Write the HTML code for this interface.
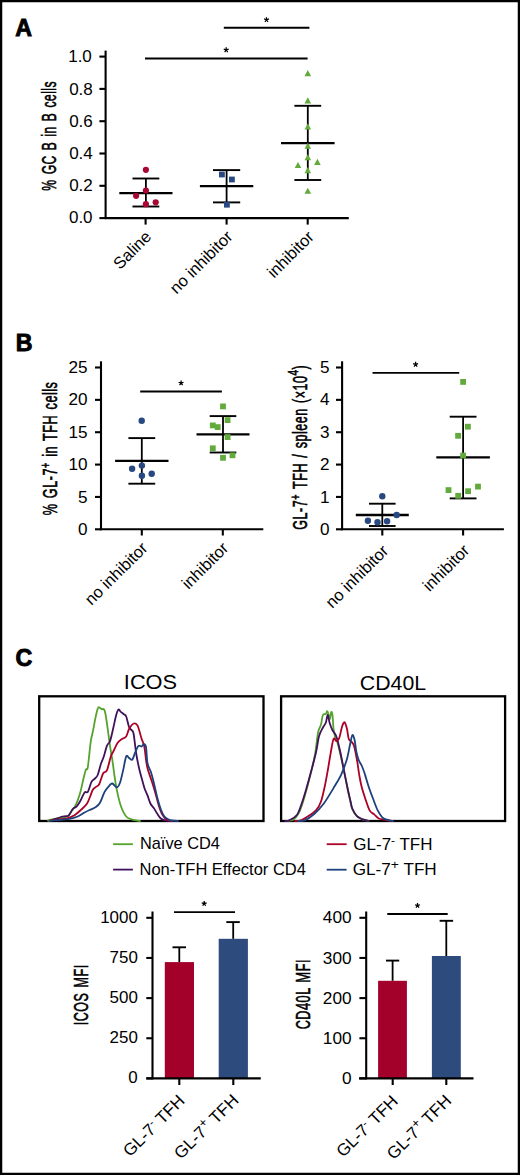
<!DOCTYPE html>
<html><head><meta charset="utf-8"><style>
html,body{margin:0;padding:0;background:#fff;}
body{width:520px;height:1175px;overflow:hidden;}
svg{display:block;font-family:"Liberation Sans", sans-serif;}
</style></head><body>
<svg width="520" height="1175" viewBox="0 0 520 1175" font-family='"Liberation Sans", sans-serif' fill="#000">
<rect x="1.1" y="1.1" width="517.8" height="1172.8" fill="none" stroke="#000" stroke-width="2.3"/>
<text transform="translate(15.35,35.95)" font-size="23.2" text-anchor="start" font-weight="bold" stroke="#000" stroke-width="0.9">A</text>
<line x1="105.60" y1="50.60" x2="105.60" y2="219.00" stroke="#000" stroke-width="2.1"/>
<line x1="99.40" y1="218.10" x2="105.60" y2="218.10" stroke="#000" stroke-width="2.1"/>
<text transform="translate(92.55,223.40) scale(1.0623,1.0000)" font-size="16" text-anchor="end" >0.0</text>
<line x1="99.40" y1="185.80" x2="105.60" y2="185.80" stroke="#000" stroke-width="2.1"/>
<text transform="translate(92.85,191.40) scale(1.0666,1.0000)" font-size="16" text-anchor="end" >0.2</text>
<line x1="99.40" y1="153.50" x2="105.60" y2="153.50" stroke="#000" stroke-width="2.1"/>
<text transform="translate(92.85,159.10) scale(1.0666,1.0000)" font-size="16" text-anchor="end" >0.4</text>
<line x1="99.40" y1="121.20" x2="105.60" y2="121.20" stroke="#000" stroke-width="2.1"/>
<text transform="translate(92.85,126.80) scale(1.0666,1.0000)" font-size="16" text-anchor="end" >0.6</text>
<line x1="99.40" y1="88.90" x2="105.60" y2="88.90" stroke="#000" stroke-width="2.1"/>
<text transform="translate(92.85,94.50) scale(1.0666,1.0000)" font-size="16" text-anchor="end" >0.8</text>
<line x1="99.40" y1="56.60" x2="105.60" y2="56.60" stroke="#000" stroke-width="2.1"/>
<text transform="translate(91.85,62.20) scale(1.0642,1.0000)" font-size="16" text-anchor="end" >1.0</text>
<line x1="104.70" y1="218.10" x2="348.80" y2="218.10" stroke="#000" stroke-width="2.1"/>
<line x1="145.60" y1="218.10" x2="145.60" y2="224.60" stroke="#000" stroke-width="2.1"/>
<line x1="226.60" y1="218.10" x2="226.60" y2="224.60" stroke="#000" stroke-width="2.1"/>
<line x1="307.70" y1="218.10" x2="307.70" y2="224.60" stroke="#000" stroke-width="2.1"/>
<text transform="translate(56.15,135.80) rotate(-90) scale(0.6185,1.0000)" font-size="19.5" text-anchor="middle" stroke="#000" stroke-width="0.6" word-spacing="2" letter-spacing="0.8">% GC B in B cells</text>
<line x1="223.80" y1="27.80" x2="309.40" y2="27.80" stroke="#000" stroke-width="1.9"/>
<path d="M266.50,19.75 L266.50,17.15 M266.50,19.75 L268.97,18.95 M266.50,19.75 L268.03,21.85 M266.50,19.75 L264.97,21.85 M266.50,19.75 L264.03,18.95" stroke="#000" stroke-width="1.25" fill="none"/>
<line x1="145.00" y1="58.50" x2="307.60" y2="58.50" stroke="#000" stroke-width="1.9"/>
<path d="M226.20,49.95 L226.20,47.35 M226.20,49.95 L228.67,49.15 M226.20,49.95 L227.73,52.05 M226.20,49.95 L224.67,52.05 M226.20,49.95 L223.73,49.15" stroke="#000" stroke-width="1.25" fill="none"/>
<line x1="145.90" y1="178.50" x2="145.90" y2="206.50" stroke="#000" stroke-width="1.8"/>
<line x1="132.50" y1="178.50" x2="159.30" y2="178.50" stroke="#000" stroke-width="1.9"/>
<line x1="132.50" y1="206.50" x2="159.30" y2="206.50" stroke="#000" stroke-width="1.9"/>
<line x1="119.30" y1="193.10" x2="172.50" y2="193.10" stroke="#000" stroke-width="2.3"/>
<circle cx="145.90" cy="169.80" r="3.1" fill="#AA0633"/>
<circle cx="145.90" cy="190.50" r="3.1" fill="#AA0633"/>
<circle cx="136.10" cy="195.80" r="3.1" fill="#AA0633"/>
<circle cx="145.90" cy="204.20" r="3.1" fill="#AA0633"/>
<circle cx="155.70" cy="202.30" r="3.1" fill="#AA0633"/>
<line x1="226.60" y1="170.10" x2="226.60" y2="202.40" stroke="#000" stroke-width="1.8"/>
<line x1="213.00" y1="170.10" x2="240.20" y2="170.10" stroke="#000" stroke-width="1.9"/>
<line x1="213.00" y1="202.40" x2="240.20" y2="202.40" stroke="#000" stroke-width="1.9"/>
<line x1="199.90" y1="186.20" x2="253.30" y2="186.20" stroke="#000" stroke-width="2.3"/>
<rect x="219.00" y="171.60" width="5.8" height="5.8" fill="#284881"/>
<rect x="229.00" y="176.60" width="5.8" height="5.8" fill="#284881"/>
<rect x="224.00" y="201.80" width="5.8" height="5.8" fill="#284881"/>
<line x1="307.80" y1="105.80" x2="307.80" y2="180.00" stroke="#000" stroke-width="1.8"/>
<line x1="294.40" y1="105.80" x2="321.20" y2="105.80" stroke="#000" stroke-width="1.9"/>
<line x1="294.40" y1="180.00" x2="321.20" y2="180.00" stroke="#000" stroke-width="1.9"/>
<line x1="281.00" y1="143.10" x2="334.60" y2="143.10" stroke="#000" stroke-width="2.3"/>
<path d="M304.50,76.15 L307.80,70.05 L311.10,76.15 Z" fill="#62AA3C"/>
<path d="M304.50,103.45 L307.80,97.35 L311.10,103.45 Z" fill="#62AA3C"/>
<path d="M304.50,129.55 L307.80,123.45 L311.10,129.55 Z" fill="#62AA3C"/>
<path d="M304.50,148.85 L307.80,142.75 L311.10,148.85 Z" fill="#62AA3C"/>
<path d="M304.50,160.35 L307.80,154.25 L311.10,160.35 Z" fill="#62AA3C"/>
<path d="M294.70,168.05 L298.00,161.95 L301.30,168.05 Z" fill="#62AA3C"/>
<path d="M314.10,164.95 L317.40,158.85 L320.70,164.95 Z" fill="#62AA3C"/>
<path d="M304.50,173.15 L307.80,167.05 L311.10,173.15 Z" fill="#62AA3C"/>
<path d="M304.50,193.75 L307.80,187.65 L311.10,193.75 Z" fill="#62AA3C"/>
<text transform="translate(152.35,237.75) rotate(-45)" font-size="16.5" text-anchor="end" >Saline</text>
<text transform="translate(233.55,237.70) rotate(-45)" font-size="16.5" text-anchor="end" >no inhibitor</text>
<text transform="translate(314.80,237.85) rotate(-45)" font-size="16.5" text-anchor="end" >inhibitor</text>
<text transform="translate(15.80,350.75)" font-size="23.2" text-anchor="start" font-weight="bold" stroke="#000" stroke-width="0.9">B</text>
<line x1="101.00" y1="361.30" x2="101.00" y2="530.20" stroke="#000" stroke-width="2.1"/>
<line x1="95.00" y1="529.30" x2="101.00" y2="529.30" stroke="#000" stroke-width="2.1"/>
<text transform="translate(87.65,534.90) scale(1.0720,1.0000)" font-size="16" text-anchor="end" >0</text>
<line x1="95.00" y1="496.94" x2="101.00" y2="496.94" stroke="#000" stroke-width="2.1"/>
<text transform="translate(87.65,502.54) scale(1.0720,1.0000)" font-size="16" text-anchor="end" >5</text>
<line x1="95.00" y1="464.58" x2="101.00" y2="464.58" stroke="#000" stroke-width="2.1"/>
<text transform="translate(87.65,470.18) scale(1.0720,1.0000)" font-size="16" text-anchor="end" >10</text>
<line x1="95.00" y1="432.22" x2="101.00" y2="432.22" stroke="#000" stroke-width="2.1"/>
<text transform="translate(87.65,437.82) scale(1.0720,1.0000)" font-size="16" text-anchor="end" >15</text>
<line x1="95.00" y1="399.86" x2="101.00" y2="399.86" stroke="#000" stroke-width="2.1"/>
<text transform="translate(87.65,405.46) scale(1.0720,1.0000)" font-size="16" text-anchor="end" >20</text>
<line x1="95.00" y1="367.50" x2="101.00" y2="367.50" stroke="#000" stroke-width="2.1"/>
<text transform="translate(87.65,373.10) scale(1.0720,1.0000)" font-size="16" text-anchor="end" >25</text>
<line x1="100.10" y1="529.30" x2="263.30" y2="529.30" stroke="#000" stroke-width="2.1"/>
<line x1="141.80" y1="529.30" x2="141.80" y2="535.50" stroke="#000" stroke-width="2.1"/>
<line x1="222.80" y1="529.30" x2="222.80" y2="535.50" stroke="#000" stroke-width="2.1"/>
<text transform="translate(56.75,448.40) rotate(-90) scale(0.6487,1.0000)" font-size="19.5" text-anchor="middle" stroke="#000" stroke-width="0.6" word-spacing="2" letter-spacing="0.8">% GL-7<tspan font-size="14" dy="-7">+</tspan><tspan dy="7"> in TFH cells</tspan></text>
<line x1="140.20" y1="391.50" x2="221.90" y2="391.50" stroke="#000" stroke-width="1.9"/>
<path d="M181.10,383.05 L181.10,380.45 M181.10,383.05 L183.57,382.25 M181.10,383.05 L182.63,385.15 M181.10,383.05 L179.57,385.15 M181.10,383.05 L178.63,382.25" stroke="#000" stroke-width="1.25" fill="none"/>
<line x1="141.80" y1="438.10" x2="141.80" y2="483.70" stroke="#000" stroke-width="1.8"/>
<line x1="128.40" y1="438.10" x2="155.20" y2="438.10" stroke="#000" stroke-width="1.9"/>
<line x1="128.40" y1="483.70" x2="155.20" y2="483.70" stroke="#000" stroke-width="1.9"/>
<line x1="115.10" y1="460.90" x2="168.50" y2="460.90" stroke="#000" stroke-width="2.3"/>
<circle cx="141.70" cy="420.80" r="3.2" fill="#284881"/>
<circle cx="132.10" cy="468.80" r="3.2" fill="#284881"/>
<circle cx="141.90" cy="465.60" r="3.2" fill="#284881"/>
<circle cx="141.90" cy="475.80" r="3.2" fill="#284881"/>
<circle cx="151.70" cy="473.70" r="3.2" fill="#284881"/>
<line x1="223.00" y1="416.10" x2="223.00" y2="452.50" stroke="#000" stroke-width="1.8"/>
<line x1="209.70" y1="416.10" x2="236.30" y2="416.10" stroke="#000" stroke-width="1.9"/>
<line x1="209.70" y1="452.50" x2="236.30" y2="452.50" stroke="#000" stroke-width="1.9"/>
<line x1="196.50" y1="434.30" x2="249.50" y2="434.30" stroke="#000" stroke-width="2.3"/>
<rect x="220.10" y="403.50" width="5.8" height="5.8" fill="#62AA3C"/>
<rect x="224.70" y="417.20" width="5.8" height="5.8" fill="#62AA3C"/>
<rect x="209.90" y="422.50" width="5.8" height="5.8" fill="#62AA3C"/>
<rect x="214.80" y="424.20" width="5.8" height="5.8" fill="#62AA3C"/>
<rect x="224.70" y="434.20" width="5.8" height="5.8" fill="#62AA3C"/>
<rect x="209.90" y="445.40" width="5.8" height="5.8" fill="#62AA3C"/>
<rect x="220.10" y="454.90" width="5.8" height="5.8" fill="#62AA3C"/>
<rect x="229.60" y="452.40" width="5.8" height="5.8" fill="#62AA3C"/>
<text transform="translate(148.65,549.00) rotate(-45)" font-size="16.5" text-anchor="end" >no inhibitor</text>
<text transform="translate(229.35,549.15) rotate(-45)" font-size="16.5" text-anchor="end" >inhibitor</text>
<line x1="342.10" y1="361.30" x2="342.10" y2="530.20" stroke="#000" stroke-width="2.1"/>
<line x1="336.00" y1="529.30" x2="342.10" y2="529.30" stroke="#000" stroke-width="2.1"/>
<text transform="translate(329.65,534.90) scale(1.0720,1.0000)" font-size="16" text-anchor="end" >0</text>
<line x1="336.00" y1="496.94" x2="342.10" y2="496.94" stroke="#000" stroke-width="2.1"/>
<text transform="translate(329.65,502.54) scale(1.0720,1.0000)" font-size="16" text-anchor="end" >1</text>
<line x1="336.00" y1="464.58" x2="342.10" y2="464.58" stroke="#000" stroke-width="2.1"/>
<text transform="translate(329.65,470.18) scale(1.0720,1.0000)" font-size="16" text-anchor="end" >2</text>
<line x1="336.00" y1="432.22" x2="342.10" y2="432.22" stroke="#000" stroke-width="2.1"/>
<text transform="translate(329.65,437.82) scale(1.0720,1.0000)" font-size="16" text-anchor="end" >3</text>
<line x1="336.00" y1="399.86" x2="342.10" y2="399.86" stroke="#000" stroke-width="2.1"/>
<text transform="translate(329.65,405.46) scale(1.0720,1.0000)" font-size="16" text-anchor="end" >4</text>
<line x1="336.00" y1="367.50" x2="342.10" y2="367.50" stroke="#000" stroke-width="2.1"/>
<text transform="translate(329.65,373.10) scale(1.0720,1.0000)" font-size="16" text-anchor="end" >5</text>
<line x1="341.20" y1="529.30" x2="503.90" y2="529.30" stroke="#000" stroke-width="2.1"/>
<line x1="382.30" y1="529.30" x2="382.30" y2="535.50" stroke="#000" stroke-width="2.1"/>
<line x1="463.10" y1="529.30" x2="463.10" y2="535.50" stroke="#000" stroke-width="2.1"/>
<text transform="translate(307.10,447.20) rotate(-90) scale(0.6441,1.0000)" font-size="19.5" text-anchor="middle" stroke="#000" stroke-width="0.6" word-spacing="2" letter-spacing="0.8">GL-7<tspan font-size="14" dy="-7">+</tspan><tspan dy="7"> TFH / spleen (×10</tspan><tspan font-size="15.5" dy="-8.8">4</tspan><tspan dy="8.8">)</tspan></text>
<line x1="372.50" y1="372.90" x2="459.20" y2="372.90" stroke="#000" stroke-width="1.9"/>
<path d="M415.60,364.45 L415.60,361.85 M415.60,364.45 L418.07,363.65 M415.60,364.45 L417.13,366.55 M415.60,364.45 L414.07,366.55 M415.60,364.45 L413.13,363.65" stroke="#000" stroke-width="1.25" fill="none"/>
<line x1="382.30" y1="503.70" x2="382.30" y2="526.00" stroke="#000" stroke-width="1.8"/>
<line x1="369.00" y1="503.70" x2="395.60" y2="503.70" stroke="#000" stroke-width="1.9"/>
<line x1="369.00" y1="526.00" x2="395.60" y2="526.00" stroke="#000" stroke-width="1.9"/>
<line x1="355.80" y1="515.00" x2="408.80" y2="515.00" stroke="#000" stroke-width="2.3"/>
<circle cx="382.30" cy="496.20" r="3.2" fill="#284881"/>
<circle cx="396.70" cy="515.00" r="3.2" fill="#284881"/>
<circle cx="367.90" cy="520.80" r="3.2" fill="#284881"/>
<circle cx="377.50" cy="522.30" r="3.2" fill="#284881"/>
<circle cx="387.10" cy="521.30" r="3.2" fill="#284881"/>
<line x1="463.10" y1="416.70" x2="463.10" y2="498.40" stroke="#000" stroke-width="1.8"/>
<line x1="449.70" y1="416.70" x2="476.50" y2="416.70" stroke="#000" stroke-width="1.9"/>
<line x1="449.70" y1="498.40" x2="476.50" y2="498.40" stroke="#000" stroke-width="1.9"/>
<line x1="436.30" y1="457.40" x2="489.90" y2="457.40" stroke="#000" stroke-width="2.3"/>
<rect x="460.20" y="379.00" width="5.8" height="5.8" fill="#62AA3C"/>
<rect x="465.00" y="423.80" width="5.8" height="5.8" fill="#62AA3C"/>
<rect x="455.20" y="432.90" width="5.8" height="5.8" fill="#62AA3C"/>
<rect x="460.20" y="452.60" width="5.8" height="5.8" fill="#62AA3C"/>
<rect x="445.60" y="487.20" width="5.8" height="5.8" fill="#62AA3C"/>
<rect x="455.30" y="492.90" width="5.8" height="5.8" fill="#62AA3C"/>
<rect x="465.20" y="488.30" width="5.8" height="5.8" fill="#62AA3C"/>
<rect x="475.10" y="483.70" width="5.8" height="5.8" fill="#62AA3C"/>
<text transform="translate(389.40,551.85) rotate(-45)" font-size="16.5" text-anchor="end" >no inhibitor</text>
<text transform="translate(470.35,551.45) rotate(-45)" font-size="16.5" text-anchor="end" >inhibitor</text>
<text transform="translate(15.55,665.60)" font-size="23.2" text-anchor="start" font-weight="bold" stroke="#000" stroke-width="0.9">C</text>
<text transform="translate(150.45,689.40) scale(1.0622,1.0000)" font-size="20.5" text-anchor="middle" >ICOS</text>
<text transform="translate(392.95,689.55) scale(1.0380,1.0000)" font-size="20.5" text-anchor="middle" >CD40L</text>
<rect x="39.2" y="696.3" width="224.3" height="124.7" fill="none" stroke="#000" stroke-width="2.3"/>
<rect x="281.1" y="696.3" width="224" height="124.7" fill="none" stroke="#000" stroke-width="2.3"/>
<path d="M48.50,821.00 C48.55,820.87 47.20,820.65 48.80,820.20 C50.40,819.75 55.02,818.92 58.10,818.30 C61.18,817.68 65.00,817.75 67.30,816.50 C69.60,815.25 70.65,812.43 71.90,810.80 C73.15,809.17 73.83,808.43 74.80,806.70 C75.77,804.97 76.73,802.98 77.70,800.40 C78.67,797.82 79.67,794.68 80.60,791.20 C81.53,787.72 82.43,783.07 83.30,779.50 C84.17,775.93 85.10,771.60 85.80,769.80 C86.50,768.00 87.02,770.33 87.50,768.70 C87.98,767.07 88.15,764.58 88.70,760.00 C89.25,755.42 90.07,746.13 90.80,741.20 C91.53,736.27 92.33,734.25 93.10,730.40 C93.87,726.55 94.63,721.70 95.40,718.10 C96.17,714.50 97.07,710.60 97.70,708.80 C98.33,707.00 98.57,707.23 99.20,707.30 C99.83,707.37 100.73,708.88 101.50,709.20 C102.27,709.52 103.15,708.48 103.80,709.20 C104.45,709.92 104.75,710.23 105.40,713.50 C106.05,716.77 106.93,723.42 107.70,728.80 C108.47,734.18 109.23,740.67 110.00,745.80 C110.77,750.93 111.53,754.48 112.30,759.60 C113.07,764.72 113.83,771.37 114.60,776.50 C115.37,781.63 115.87,785.52 116.90,790.40 C117.93,795.28 119.25,801.45 120.80,805.80 C122.35,810.15 124.28,814.20 126.20,816.50 C128.12,818.80 130.00,818.85 132.30,819.60 C134.60,820.35 138.72,820.77 140.00,821.00" fill="none" stroke="#55A22E" stroke-width="1.8" stroke-linejoin="round" stroke-linecap="round"/>
<path d="M49.50,821.00 C49.97,820.83 50.10,820.75 52.30,820.00 C54.50,819.25 60.10,817.17 62.70,816.50 C65.30,815.83 66.75,816.38 67.90,816.00 C69.05,815.62 68.73,815.45 69.60,814.20 C70.47,812.95 71.95,809.75 73.10,808.50 C74.25,807.25 75.35,807.87 76.50,806.70 C77.65,805.53 78.65,803.87 80.00,801.50 C81.35,799.13 83.28,794.12 84.60,792.50 C85.92,790.88 86.75,793.58 87.90,791.80 C89.05,790.02 90.38,783.97 91.50,781.80 C92.62,779.63 93.57,779.93 94.60,778.80 C95.63,777.67 96.67,777.43 97.70,775.00 C98.73,772.57 99.78,767.28 100.80,764.20 C101.82,761.12 102.78,759.57 103.80,756.50 C104.82,753.43 105.87,748.35 106.90,745.80 C107.93,743.25 108.97,744.03 110.00,741.20 C111.03,738.37 112.07,733.17 113.10,728.80 C114.13,724.43 115.30,718.20 116.20,715.00 C117.10,711.80 117.73,710.12 118.50,709.60 C119.27,709.08 119.92,711.13 120.80,711.90 C121.68,712.67 122.90,713.43 123.80,714.20 C124.70,714.97 125.30,714.32 126.20,716.50 C127.10,718.68 128.05,724.73 129.20,727.30 C130.35,729.87 132.20,729.58 133.10,731.90 C134.00,734.22 134.08,737.60 134.60,741.20 C135.12,744.80 135.43,748.90 136.20,753.50 C136.97,758.10 138.18,764.32 139.20,768.80 C140.22,773.28 141.40,777.12 142.30,780.40 C143.20,783.68 143.73,786.00 144.60,788.50 C145.47,791.00 146.53,792.90 147.50,795.40 C148.47,797.90 149.35,801.38 150.40,803.50 C151.45,805.62 152.65,806.38 153.80,808.10 C154.95,809.82 156.13,812.07 157.30,813.80 C158.47,815.53 159.65,817.43 160.80,818.50 C161.95,819.57 162.67,819.78 164.20,820.20 C165.73,820.62 169.03,820.87 170.00,821.00" fill="none" stroke="#41115B" stroke-width="1.8" stroke-linejoin="round" stroke-linecap="round"/>
<path d="M50.00,821.00 C50.38,820.87 49.42,820.65 52.30,820.20 C55.18,819.75 63.65,819.10 67.30,818.30 C70.95,817.50 71.88,816.85 74.20,815.40 C76.52,813.95 79.08,811.53 81.20,809.60 C83.32,807.67 85.37,806.10 86.90,803.80 C88.43,801.50 89.43,798.10 90.40,795.80 C91.37,793.50 91.87,791.42 92.70,790.00 C93.53,788.58 94.32,788.27 95.40,787.30 C96.48,786.33 97.92,786.50 99.20,784.20 C100.48,781.90 101.82,775.80 103.10,773.50 C104.38,771.20 105.62,773.23 106.90,770.40 C108.18,767.57 109.77,759.58 110.80,756.50 C111.83,753.42 111.95,754.20 113.10,751.90 C114.25,749.60 116.17,744.88 117.70,742.70 C119.23,740.52 120.88,739.83 122.30,738.80 C123.72,737.77 125.05,738.17 126.20,736.50 C127.35,734.83 127.93,730.97 129.20,728.80 C130.47,726.63 132.38,724.00 133.80,723.50 C135.22,723.00 136.42,723.30 137.70,725.80 C138.98,728.30 140.40,735.05 141.50,738.50 C142.60,741.95 143.50,742.58 144.30,746.50 C145.10,750.42 145.68,758.08 146.30,762.00 C146.92,765.92 147.08,766.78 148.00,770.00 C148.92,773.22 150.55,777.38 151.80,781.30 C153.05,785.22 154.38,789.62 155.50,793.50 C156.62,797.38 157.43,801.22 158.50,804.60 C159.57,807.98 160.57,811.30 161.90,813.80 C163.23,816.30 164.82,818.40 166.50,819.60 C168.18,820.80 171.08,820.77 172.00,821.00" fill="none" stroke="#AC0026" stroke-width="1.8" stroke-linejoin="round" stroke-linecap="round"/>
<path d="M50.00,821.00 C50.38,820.93 49.03,820.97 52.30,820.60 C55.57,820.23 65.37,819.48 69.60,818.80 C73.83,818.12 75.20,817.55 77.70,816.50 C80.20,815.45 82.48,813.65 84.60,812.50 C86.72,811.35 88.60,810.47 90.40,809.60 C92.20,808.73 93.80,808.45 95.40,807.30 C97.00,806.15 98.47,805.27 100.00,802.70 C101.53,800.13 103.07,794.72 104.60,791.90 C106.13,789.08 107.92,787.20 109.20,785.80 C110.48,784.40 111.02,783.25 112.30,783.50 C113.58,783.75 115.62,787.43 116.90,787.30 C118.18,787.17 118.97,785.52 120.00,782.70 C121.03,779.88 122.07,774.77 123.10,770.40 C124.13,766.03 125.18,758.55 126.20,756.50 C127.22,754.45 128.18,757.58 129.20,758.10 C130.22,758.62 131.27,760.63 132.30,759.60 C133.33,758.57 134.37,754.20 135.40,751.90 C136.43,749.60 137.48,746.70 138.50,745.80 C139.52,744.90 140.62,746.77 141.50,746.50 C142.38,746.23 143.05,744.12 143.80,744.20 C144.55,744.28 145.38,743.85 146.00,747.00 C146.62,750.15 146.67,758.88 147.50,763.10 C148.33,767.32 149.95,769.03 151.00,772.30 C152.05,775.57 152.75,778.47 153.80,782.70 C154.85,786.93 156.13,793.28 157.30,797.70 C158.47,802.12 159.65,806.12 160.80,809.20 C161.95,812.28 162.87,814.47 164.20,816.20 C165.53,817.93 167.45,818.88 168.80,819.60 C170.15,820.32 170.77,820.27 172.30,820.50 C173.83,820.73 177.05,820.92 178.00,821.00" fill="none" stroke="#1C417C" stroke-width="1.8" stroke-linejoin="round" stroke-linecap="round"/>
<path d="M287.00,821.00 C288.02,820.80 291.13,821.12 293.10,819.80 C295.07,818.48 297.03,816.47 298.80,813.10 C300.57,809.73 302.08,804.73 303.70,799.60 C305.32,794.47 307.07,787.75 308.50,782.30 C309.93,776.85 311.18,771.70 312.30,766.90 C313.42,762.10 314.23,759.27 315.20,753.50 C316.17,747.73 317.13,737.12 318.10,732.30 C319.07,727.48 320.20,727.48 321.00,724.60 C321.80,721.72 322.10,716.77 322.90,715.00 C323.70,713.23 325.07,714.63 325.80,714.00 C326.53,713.37 326.82,711.03 327.30,711.20 C327.78,711.37 328.25,713.73 328.70,715.00 C329.15,716.27 329.58,719.28 330.00,718.80 C330.42,718.32 330.78,712.73 331.20,712.10 C331.62,711.47 332.12,712.27 332.50,715.00 C332.88,717.73 333.02,724.65 333.50,728.50 C333.98,732.35 334.77,735.87 335.40,738.10 C336.03,740.33 336.50,739.33 337.30,741.90 C338.10,744.47 339.08,748.68 340.20,753.50 C341.32,758.32 342.72,764.72 344.00,770.80 C345.28,776.88 346.90,785.13 347.90,790.00 C348.90,794.87 349.27,796.80 350.00,800.00 C350.73,803.20 351.15,806.50 352.30,809.20 C353.45,811.90 355.17,814.50 356.90,816.20 C358.63,817.90 360.77,818.60 362.70,819.40 C364.63,820.20 367.53,820.73 368.50,821.00" fill="none" stroke="#55A22E" stroke-width="1.8" stroke-linejoin="round" stroke-linecap="round"/>
<path d="M285.00,821.00 C285.70,820.90 287.22,821.40 289.20,820.40 C291.18,819.40 294.82,817.82 296.90,815.00 C298.98,812.18 300.10,807.98 301.70,803.50 C303.30,799.02 304.90,793.55 306.50,788.10 C308.10,782.65 309.68,776.90 311.30,770.80 C312.92,764.70 314.92,757.27 316.20,751.50 C317.48,745.73 317.88,740.20 319.00,736.20 C320.12,732.20 321.77,729.75 322.90,727.50 C324.03,725.25 325.00,724.78 325.80,722.70 C326.60,720.62 327.07,715.00 327.70,715.00 C328.33,715.00 328.80,720.13 329.60,722.70 C330.40,725.27 331.38,728.15 332.50,730.40 C333.62,732.65 335.02,732.68 336.30,736.20 C337.58,739.72 338.92,745.73 340.20,751.50 C341.48,757.27 342.72,764.38 344.00,770.80 C345.28,777.22 346.82,784.97 347.90,790.00 C348.98,795.03 349.77,797.92 350.50,801.00 C351.23,804.08 351.23,805.97 352.30,808.50 C353.37,811.03 355.17,814.38 356.90,816.20 C358.63,818.02 360.77,818.60 362.70,819.40 C364.63,820.20 367.53,820.73 368.50,821.00" fill="none" stroke="#41115B" stroke-width="1.8" stroke-linejoin="round" stroke-linecap="round"/>
<path d="M295.00,821.00 C295.97,820.90 298.55,821.23 300.80,820.40 C303.05,819.57 305.93,817.70 308.50,816.00 C311.07,814.30 314.12,812.62 316.20,810.20 C318.28,807.78 319.57,805.50 321.00,801.50 C322.43,797.50 323.68,791.32 324.80,786.20 C325.92,781.08 326.73,776.25 327.70,770.80 C328.67,765.35 329.63,758.80 330.60,753.50 C331.57,748.20 332.55,741.08 333.50,739.00 C334.45,736.92 335.35,741.15 336.30,741.00 C337.25,740.85 338.23,740.52 339.20,738.10 C340.17,735.68 341.20,729.13 342.10,726.50 C343.00,723.87 343.80,721.97 344.60,722.30 C345.40,722.63 346.20,725.72 346.90,728.50 C347.60,731.28 348.00,736.77 348.80,739.00 C349.60,741.23 350.83,740.77 351.70,741.90 C352.57,743.03 353.32,743.82 354.00,745.80 C354.68,747.78 355.22,750.92 355.80,753.80 C356.38,756.68 356.93,759.63 357.50,763.10 C358.07,766.57 358.53,770.75 359.20,774.60 C359.87,778.45 360.53,782.35 361.50,786.20 C362.47,790.05 363.65,793.67 365.00,797.70 C366.35,801.73 368.07,807.62 369.60,810.40 C371.13,813.18 372.67,813.05 374.20,814.40 C375.73,815.75 377.07,817.63 378.80,818.50 C380.53,819.37 382.73,819.18 384.60,819.60 C386.47,820.02 389.10,820.77 390.00,821.00" fill="none" stroke="#AC0026" stroke-width="1.8" stroke-linejoin="round" stroke-linecap="round"/>
<path d="M298.00,821.00 C299.10,820.90 301.90,821.57 304.60,820.40 C307.30,819.23 311.00,816.82 314.20,814.00 C317.40,811.18 320.58,807.82 323.80,803.50 C327.02,799.18 330.60,792.92 333.50,788.10 C336.40,783.28 338.97,779.42 341.20,774.60 C343.43,769.78 345.47,764.00 346.90,759.20 C348.33,754.40 348.90,749.80 349.80,745.80 C350.70,741.80 351.50,736.17 352.30,735.20 C353.10,734.23 353.93,737.28 354.60,740.00 C355.27,742.72 355.62,748.13 356.30,751.50 C356.98,754.87 357.73,757.70 358.70,760.20 C359.67,762.70 361.05,764.10 362.10,766.50 C363.15,768.90 363.93,771.32 365.00,774.60 C366.07,777.88 367.15,782.17 368.50,786.20 C369.85,790.23 371.57,794.77 373.10,798.80 C374.63,802.83 376.17,807.32 377.70,810.40 C379.23,813.48 380.77,815.77 382.30,817.30 C383.83,818.83 385.12,818.98 386.90,819.60 C388.68,820.22 391.98,820.77 393.00,821.00" fill="none" stroke="#1C417C" stroke-width="1.8" stroke-linejoin="round" stroke-linecap="round"/>
<line x1="113.10" y1="844.20" x2="132.90" y2="844.20" stroke="#55A22E" stroke-width="1.8"/>
<line x1="113.10" y1="869.60" x2="132.90" y2="869.60" stroke="#41115B" stroke-width="1.8"/>
<text transform="translate(139.95,849.25) scale(1.0230,1.0000)" font-size="16" text-anchor="start" >Naïve CD4</text>
<text transform="translate(139.55,874.90) scale(1.0299,1.0000)" font-size="16" text-anchor="start" >Non-TFH Effector CD4</text>
<line x1="326.70" y1="844.20" x2="346.60" y2="844.20" stroke="#AC0026" stroke-width="1.8"/>
<line x1="326.70" y1="869.70" x2="346.60" y2="869.70" stroke="#1C417C" stroke-width="1.8"/>
<text transform="translate(353.30,850.10) scale(1.0638,1.0000)" font-size="16" text-anchor="start" >GL-7<tspan font-size="11" dy="-6">-</tspan><tspan dy="6"> TFH</tspan></text>
<text transform="translate(352.70,875.00) scale(1.0721,1.0000)" font-size="16" text-anchor="start" >GL-7<tspan font-size="13" dy="-6.5">+</tspan><tspan dy="6.5"> TFH</tspan></text>
<line x1="152.50" y1="911.50" x2="152.50" y2="1079.30" stroke="#000" stroke-width="2.1"/>
<line x1="146.30" y1="1078.40" x2="152.50" y2="1078.40" stroke="#000" stroke-width="2.1"/>
<text transform="translate(137.80,1083.40) scale(1.0588,1.0000)" font-size="16" text-anchor="end" >0</text>
<line x1="146.30" y1="1038.25" x2="152.50" y2="1038.25" stroke="#000" stroke-width="2.1"/>
<text transform="translate(137.80,1043.25) scale(1.0588,1.0000)" font-size="16" text-anchor="end" >250</text>
<line x1="146.30" y1="998.10" x2="152.50" y2="998.10" stroke="#000" stroke-width="2.1"/>
<text transform="translate(137.80,1003.10) scale(1.0588,1.0000)" font-size="16" text-anchor="end" >500</text>
<line x1="146.30" y1="957.95" x2="152.50" y2="957.95" stroke="#000" stroke-width="2.1"/>
<text transform="translate(137.80,962.95) scale(1.0588,1.0000)" font-size="16" text-anchor="end" >750</text>
<line x1="146.30" y1="917.80" x2="152.50" y2="917.80" stroke="#000" stroke-width="2.1"/>
<text transform="translate(137.80,922.80) scale(1.0588,1.0000)" font-size="16" text-anchor="end" >1000</text>
<rect x="164.8" y="962.1" width="29.2" height="116.30" fill="#A3002A"/>
<rect x="218.7" y="938.8" width="29.2" height="139.60" fill="#2D4B7D"/>
<line x1="179.30" y1="947.30" x2="179.30" y2="962.10" stroke="#000" stroke-width="1.8"/>
<line x1="172.50" y1="947.30" x2="186.00" y2="947.30" stroke="#000" stroke-width="1.9"/>
<line x1="233.20" y1="922.10" x2="233.20" y2="938.80" stroke="#000" stroke-width="1.8"/>
<line x1="226.30" y1="922.10" x2="239.80" y2="922.10" stroke="#000" stroke-width="1.9"/>
<line x1="146.30" y1="1078.40" x2="260.80" y2="1078.40" stroke="#000" stroke-width="2.1"/>
<line x1="179.30" y1="1078.40" x2="179.30" y2="1085.00" stroke="#000" stroke-width="2.1"/>
<line x1="233.30" y1="1078.40" x2="233.30" y2="1085.00" stroke="#000" stroke-width="2.1"/>
<line x1="174.00" y1="912.10" x2="235.00" y2="912.10" stroke="#000" stroke-width="1.9"/>
<path d="M204.20,903.65 L204.20,901.05 M204.20,903.65 L206.67,902.85 M204.20,903.65 L205.73,905.75 M204.20,903.65 L202.67,905.75 M204.20,903.65 L201.73,902.85" stroke="#000" stroke-width="1.25" fill="none"/>
<text transform="translate(87.75,994.80) rotate(-90) scale(0.6422,1.0000)" font-size="19.5" text-anchor="middle" stroke="#000" stroke-width="0.6" word-spacing="2" letter-spacing="0.8">ICOS MFI</text>
<text transform="translate(185.75,1101.70) rotate(-45)" font-size="17" text-anchor="end" >GL-7<tspan font-size="11" dy="-6">-</tspan><tspan dy="6"> TFH</tspan></text>
<text transform="translate(239.60,1101.35) rotate(-45)" font-size="17" text-anchor="end" >GL-7<tspan font-size="13" dy="-6.5">+</tspan><tspan dy="6.5"> TFH</tspan></text>
<line x1="366.20" y1="911.50" x2="366.20" y2="1079.30" stroke="#000" stroke-width="2.1"/>
<line x1="359.40" y1="1078.40" x2="366.20" y2="1078.40" stroke="#000" stroke-width="2.1"/>
<text transform="translate(351.65,1084.00) scale(1.0792,1.0000)" font-size="16" text-anchor="end" >0</text>
<line x1="359.40" y1="1038.25" x2="366.20" y2="1038.25" stroke="#000" stroke-width="2.1"/>
<text transform="translate(351.65,1043.85) scale(1.0792,1.0000)" font-size="16" text-anchor="end" >100</text>
<line x1="359.40" y1="998.10" x2="366.20" y2="998.10" stroke="#000" stroke-width="2.1"/>
<text transform="translate(351.65,1003.70) scale(1.0792,1.0000)" font-size="16" text-anchor="end" >200</text>
<line x1="359.40" y1="957.95" x2="366.20" y2="957.95" stroke="#000" stroke-width="2.1"/>
<text transform="translate(351.65,963.55) scale(1.0792,1.0000)" font-size="16" text-anchor="end" >300</text>
<line x1="359.40" y1="917.80" x2="366.20" y2="917.80" stroke="#000" stroke-width="2.1"/>
<text transform="translate(351.65,923.40) scale(1.0792,1.0000)" font-size="16" text-anchor="end" >400</text>
<rect x="378.1" y="980.8" width="28.8" height="97.60" fill="#A3002A"/>
<rect x="431.9" y="956.0" width="28.9" height="122.40" fill="#2D4B7D"/>
<line x1="392.60" y1="960.60" x2="392.60" y2="980.80" stroke="#000" stroke-width="1.8"/>
<line x1="386.00" y1="960.60" x2="399.20" y2="960.60" stroke="#000" stroke-width="1.9"/>
<line x1="446.30" y1="920.80" x2="446.30" y2="956.00" stroke="#000" stroke-width="1.8"/>
<line x1="439.60" y1="920.80" x2="453.10" y2="920.80" stroke="#000" stroke-width="1.9"/>
<line x1="359.00" y1="1078.40" x2="473.50" y2="1078.40" stroke="#000" stroke-width="2.1"/>
<line x1="392.70" y1="1078.40" x2="392.70" y2="1085.00" stroke="#000" stroke-width="2.1"/>
<line x1="446.30" y1="1078.40" x2="446.30" y2="1085.00" stroke="#000" stroke-width="2.1"/>
<line x1="387.30" y1="914.00" x2="447.70" y2="914.00" stroke="#000" stroke-width="1.9"/>
<path d="M417.50,905.55 L417.50,902.95 M417.50,905.55 L419.97,904.75 M417.50,905.55 L419.03,907.65 M417.50,905.55 L415.97,907.65 M417.50,905.55 L415.03,904.75" stroke="#000" stroke-width="1.25" fill="none"/>
<text transform="translate(309.65,994.20) rotate(-90) scale(0.6508,1.0000)" font-size="19.5" text-anchor="middle" stroke="#000" stroke-width="0.6" word-spacing="2" letter-spacing="0.8">CD40L MFI</text>
<text transform="translate(399.00,1102.30) rotate(-45)" font-size="17" text-anchor="end" >GL-7<tspan font-size="11" dy="-6">-</tspan><tspan dy="6"> TFH</tspan></text>
<text transform="translate(452.40,1101.85) rotate(-45)" font-size="17" text-anchor="end" >GL-7<tspan font-size="13" dy="-6.5">+</tspan><tspan dy="6.5"> TFH</tspan></text>
</svg>
</body></html>
